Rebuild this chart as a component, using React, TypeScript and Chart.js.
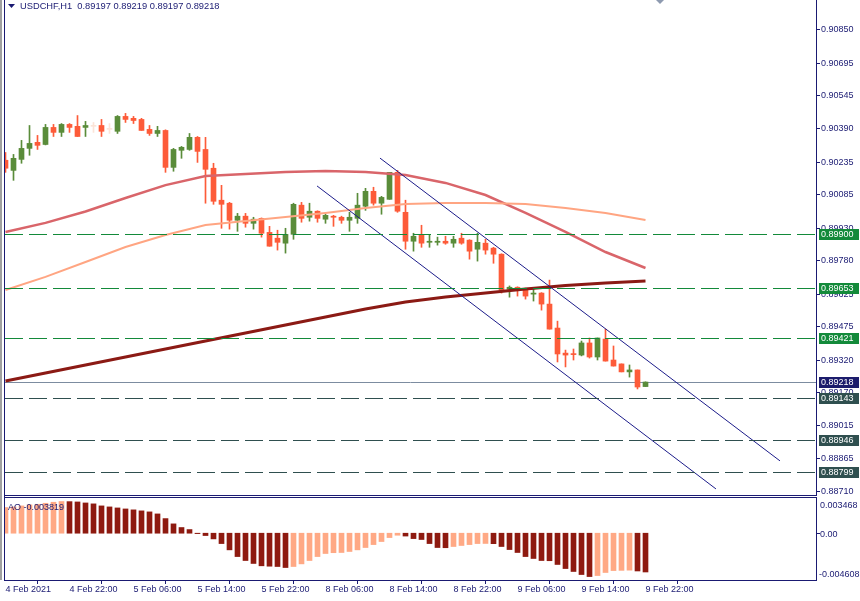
import React, { useEffect, useRef } from "react";
import { Chart, registerables } from "chart.js";

Chart.register(...registerables);

// ---------------- data ----------------
const SYMBOL = "USDCHF,H1";

const OPEN = [
  0.90245, 0.90198, 0.90249, 0.90300, 0.90328, 0.90318, 0.90397, 0.90374, 0.90411, 0.90402,
  0.90397, 0.90402, 0.90406, 0.90388, 0.90379, 0.90448, 0.90439, 0.90434, 0.90388, 0.90369,
  0.90383, 0.90212, 0.90291, 0.90295, 0.90351, 0.90295, 0.90208, 0.90060, 0.90046, 0.89967,
  0.89986, 0.89953, 0.89976, 0.89911, 0.89884, 0.89861, 0.89902, 0.90037, 0.89981, 0.90009,
  0.89972, 0.89986, 0.89981, 0.89967, 0.89976, 0.90032, 0.90101, 0.90046, 0.90064, 0.90189,
  0.90004, 0.89870, 0.89898, 0.89865, 0.89865, 0.89870, 0.89861, 0.89884, 0.89875, 0.89833,
  0.89861, 0.89838, 0.89810, 0.89648, 0.89657, 0.89648, 0.89625, 0.89630, 0.89579, 0.89468,
  0.89352, 0.89348, 0.89343, 0.89399, 0.89334, 0.89417, 0.89320, 0.89302, 0.89265, 0.89274,
  0.89197,
];
const HIGH = [
  0.90281, 0.90272, 0.90337, 0.90406, 0.90360, 0.90411, 0.90411, 0.90415, 0.90415, 0.90452,
  0.90425, 0.90420, 0.90434, 0.90415, 0.90452, 0.90462, 0.90448, 0.90439, 0.90406, 0.90402,
  0.90386, 0.90300, 0.90309, 0.90369, 0.90355, 0.90351, 0.90231, 0.90129, 0.90050, 0.89999,
  0.89999, 0.89981, 0.89978, 0.89939, 0.89921, 0.89930, 0.90046, 0.90050, 0.90046, 0.90011,
  0.89995, 0.89990, 0.89986, 0.90004, 0.90092, 0.90115, 0.90120, 0.90078, 0.90189, 0.90198,
  0.90060, 0.89907, 0.89944, 0.89898, 0.89889, 0.89893, 0.89893, 0.89907, 0.89877, 0.89907,
  0.89879, 0.89842, 0.89812, 0.89663, 0.89659, 0.89653, 0.89648, 0.89632, 0.89690, 0.89500,
  0.89366, 0.89371, 0.89408, 0.89422, 0.89422, 0.89463, 0.89385, 0.89302, 0.89297, 0.89274,
  0.89219,
];
const LOW = [
  0.90189, 0.90152, 0.90231, 0.90268, 0.90295, 0.90316, 0.90355, 0.90355, 0.90374, 0.90355,
  0.90355, 0.90374, 0.90355, 0.90369, 0.90369, 0.90420, 0.90415, 0.90383, 0.90360, 0.90355,
  0.90189, 0.90194, 0.90254, 0.90291, 0.90235, 0.90046, 0.90041, 0.89930, 0.89926, 0.89916,
  0.89935, 0.89926, 0.89889, 0.89847, 0.89829, 0.89815, 0.89879, 0.89958, 0.89963, 0.89958,
  0.89953, 0.89939, 0.89953, 0.89916, 0.89953, 0.90013, 0.90037, 0.89995, 0.90064, 0.90004,
  0.89833, 0.89824, 0.89842, 0.89842, 0.89852, 0.89856, 0.89842, 0.89856, 0.89787, 0.89778,
  0.89810, 0.89768, 0.89630, 0.89611, 0.89616, 0.89602, 0.89593, 0.89551, 0.89463, 0.89311,
  0.89288, 0.89320, 0.89339, 0.89329, 0.89320, 0.89315, 0.89292, 0.89265, 0.89241, 0.89186,
  0.89197,
];
const CLOSE = [
  0.90208, 0.90254, 0.90300, 0.90323, 0.90314, 0.90397, 0.90374, 0.90411, 0.90397, 0.90355,
  0.90406, 0.90402, 0.90379, 0.90388, 0.90448, 0.90434, 0.90429, 0.90383, 0.90369, 0.90383,
  0.90212, 0.90295, 0.90305, 0.90351, 0.90286, 0.90203, 0.90055, 0.90041, 0.89967, 0.89986,
  0.89953, 0.89972, 0.89907, 0.89847, 0.89865, 0.89902, 0.90041, 0.89976, 0.90009, 0.89976,
  0.89990, 0.89981, 0.89967, 0.89981, 0.90037, 0.90101, 0.90046, 0.90073, 0.90189, 0.90009,
  0.89870, 0.89893, 0.89861, 0.89870, 0.89870, 0.89861, 0.89879, 0.89861, 0.89824, 0.89865,
  0.89829, 0.89810, 0.89644, 0.89657, 0.89648, 0.89616, 0.89630, 0.89579, 0.89463, 0.89348,
  0.89343, 0.89345, 0.89399, 0.89334, 0.89422, 0.89315, 0.89292, 0.89265, 0.89274, 0.89195,
  0.89218,
];

const TIME_TICKS = [0, 8, 16, 24, 32, 40, 48, 56, 64, 72, 80];
const TIME_LABELS = [
  "4 Feb 2021", "4 Feb 22:00", "5 Feb 06:00", "5 Feb 14:00", "5 Feb 22:00",
  "8 Feb 06:00", "8 Feb 14:00", "8 Feb 22:00", "9 Feb 06:00", "9 Feb 14:00", "9 Feb 22:00",
];
const PRICE_TICKS = [
  0.9085, 0.90695, 0.90545, 0.9039, 0.90235, 0.90085, 0.8993, 0.8978,
  0.89625, 0.89475, 0.8932, 0.8917, 0.89015, 0.88865, 0.8871,
];

const MA_INDEX = [0, 5, 10, 15, 20, 25, 30, 35, 40, 45, 50, 55, 60, 65, 70, 75, 80];
const MA_RED = [
  0.89913, 0.89955, 0.90008, 0.90070, 0.90130, 0.90172, 0.90181, 0.90191, 0.90195,
  0.90191, 0.90177, 0.90140, 0.90084, 0.90001, 0.89913, 0.89820, 0.89746,
];
const MA_SALMON = [
  0.89644, 0.89705, 0.89774, 0.89843, 0.89899, 0.89945, 0.89964, 0.89982, 0.90001,
  0.90024, 0.90042, 0.90047, 0.90047, 0.90042, 0.90024, 0.90001, 0.89968,
];
const MA_DARK = [
  0.89223, 0.89260, 0.89297, 0.89334, 0.89371, 0.89408, 0.89445, 0.89482, 0.89519,
  0.89556, 0.89589, 0.89612, 0.89630, 0.89649, 0.89665, 0.89677, 0.89686,
];

const CHANNEL_UPPER_X = [46.81, 96.81];
const CHANNEL_UPPER_Y = [0.90255, 0.88853];
const CHANNEL_LOWER_X = [38.94, 88.81];
const CHANNEL_LOWER_Y = [0.90126, 0.88723];

const LEVELS_GREEN = [0.899, 0.89653, 0.89421];
const LEVELS_SLATE = [0.89143, 0.88946, 0.88799];
const BID = 0.89218;

const AO = [
  0.00253, 0.00259, 0.00269, 0.00279, 0.00285, 0.00295, 0.00305, 0.00312, 0.00311, 0.00308,
  0.00298, 0.00289, 0.00269, 0.00259, 0.00249, 0.00239, 0.0023, 0.0022, 0.0021, 0.0019,
  0.00144, 0.00092, 0.00056, 0.00036, -0.00004, -0.00023, -0.00056, -0.00102, -0.00164, -0.0023,
  -0.00269, -0.00298, -0.00321, -0.00325, -0.00328, -0.00338, -0.00328, -0.00302, -0.00269, -0.0023,
  -0.002, -0.00192, -0.0019, -0.0018, -0.00164, -0.00141, -0.00112, -0.00082, -0.00043, -0.0002,
  -0.00028, -0.00053, -0.00062, -0.00102, -0.00141, -0.00143, -0.00131, -0.00121, -0.00112, -0.00102,
  -0.00101, -0.00103, -0.00131, -0.00161, -0.0019, -0.0023, -0.00249, -0.00269, -0.00271, -0.00308,
  -0.00348, -0.00377, -0.00407, -0.00427, -0.00417, -0.00387, -0.00368, -0.00366, -0.00364, -0.00372,
  -0.003819,
];
const AO_MAX = 0.003468;
const AO_MIN = -0.004608;

// ---------------- ranges & styles ----------------
const X_MIN = -0.1875;
const X_MAX = 101.3125;
const Y_MIN = 0.88695;
const Y_MAX = 0.90987;
const SHIFT_MARK = 81.8;

const AXIS = "#1a1a72";
const TEXT = "#1a1a72";
const UP = "#5a8c3a";
const DOWN = "#fd5b39";
const DOJI = "#fbe4d8";
const GREEN = "#138a3a";
const SLATE = "#2f4f4f";
const BID_LINE = "#7c8ca0";
const BID_BOX = "#1c1c6c";
const MA_RED_C = "#d9656a";
const MA_SALMON_C = "#ffa582";
const MA_DARK_C = "#8b1a14";
const CHANNEL_C = "#1c1c8a";
const AO_UP = "#ffa985";
const AO_DOWN = "#8e1a10";
const FONT_FAMILY = "'Liberation Sans', Arial, sans-serif";

const fmt = (v: number, d: number) => v.toFixed(d);

function drawLevel(chart: any, v: number, color: string, dash: number[]) {
  const { ctx, chartArea, scales } = chart;
  const py = Math.floor(scales.y.getPixelForValue(v)) + 0.5;
  ctx.save();
  ctx.beginPath();
  ctx.rect(chartArea.left, chartArea.top, chartArea.right - chartArea.left, chartArea.bottom - chartArea.top);
  ctx.clip();
  ctx.strokeStyle = color;
  ctx.lineWidth = 1;
  ctx.setLineDash(dash);
  ctx.beginPath();
  ctx.moveTo(chartArea.left + 1, py);
  ctx.lineTo(chartArea.right, py);
  ctx.stroke();
  ctx.restore();
}

const mainDecor = {
  id: "mainDecor",
  beforeDatasetsDraw(chart: any) {
    drawLevel(chart, BID, BID_LINE, []);
  },
  afterDatasetsDraw(chart: any) {
    LEVELS_GREEN.forEach((v) => drawLevel(chart, v, GREEN, [18, 6]));
    LEVELS_SLATE.forEach((v) => drawLevel(chart, v, SLATE, [18, 6]));
  },
  afterDraw(chart: any) {
    const { ctx, chartArea, scales } = chart;
    const y = scales.y;
    const x = scales.x;
    ctx.save();
    ctx.fillStyle = AXIS;
    ctx.fillRect(chartArea.left, 0, 1, chartArea.bottom + 1);
    ctx.fillRect(chartArea.left, chartArea.bottom, chartArea.right - chartArea.left + 1, 1);

    const boxes: [number, string][] = [
      ...LEVELS_GREEN.map((v) => [v, GREEN] as [number, string]),
      [BID, BID_BOX],
      ...LEVELS_SLATE.map((v) => [v, SLATE] as [number, string]),
    ];
    ctx.font = `9px ${FONT_FAMILY}`;
    ctx.textBaseline = "alphabetic";
    ctx.textAlign = "left";
    for (const [v, c] of boxes) {
      const py = y.getPixelForValue(v);
      const top = Math.round(py - 5.5);
      ctx.fillStyle = c;
      ctx.fillRect(chartArea.right + 3, top, 40, 11);
      ctx.fillStyle = "#ffffff";
      ctx.fillText(fmt(v, 5), chartArea.right + 5, top + 8);
    }

    // header
    ctx.fillStyle = TEXT;
    ctx.beginPath();
    ctx.moveTo(8, 4);
    ctx.lineTo(15, 4);
    ctx.lineTo(11.5, 8);
    ctx.closePath();
    ctx.fill();
    const n = OPEN.length - 1;
    const header = `${SYMBOL}  ${fmt(OPEN[n], 5)} ${fmt(HIGH[n], 5)} ${fmt(LOW[n], 5)} ${fmt(CLOSE[n], 5)}`;
    ctx.font = `9.3px ${FONT_FAMILY}`;
    ctx.fillText(header, 20, 9);

    // chart shift marker
    const sx = Math.round(x.getPixelForValue(SHIFT_MARK));
    ctx.fillStyle = "#8e9ab0";
    ctx.beginPath();
    ctx.moveTo(sx - 4, 0);
    ctx.lineTo(sx + 4, 0);
    ctx.lineTo(sx, 4);
    ctx.closePath();
    ctx.fill();
    ctx.restore();
  },
};

const aoDecor = {
  id: "aoDecor",
  afterDraw(chart: any) {
    const { ctx, chartArea, scales } = chart;
    ctx.save();
    ctx.fillStyle = AXIS;
    ctx.fillRect(chartArea.left, 0, 1, chartArea.bottom + 1);
    ctx.fillRect(chartArea.left, 1, chartArea.right - chartArea.left + 1, 1);
    const zeroY = scales.y.getPixelForValue(0);
    ctx.fillRect(chartArea.right, Math.round(zeroY), 4, 1);
    ctx.fillStyle = TEXT;
    ctx.font = `9px ${FONT_FAMILY}`;
    ctx.textBaseline = "alphabetic";
    ctx.textAlign = "left";
    const x0 = chartArea.right + 4;
    ctx.fillText(fmt(AO_MAX, 6), x0, chartArea.top + 9.5);
    ctx.fillText("0.00", x0, Math.round(zeroY) + 4);
    ctx.fillText(fmt(AO_MIN, 6), x0 - 1, chartArea.bottom - 3);
    ctx.fillText(`AO ${fmt(AO[AO.length - 1], 6)}`, 8, 14);
    ctx.restore();
  },
};

export default function App() {
  const mainRef = useRef<HTMLCanvasElement>(null);
  const aoRef = useRef<HTMLCanvasElement>(null);

  useEffect(() => {
    const idx = OPEN.map((_, i) => i);
    const candleColor = idx.map((i) =>
      CLOSE[i] > OPEN[i] ? UP : CLOSE[i] < OPEN[i] ? DOWN : DOJI
    );
    const maLine = (vals: number[], color: string, width: number) => ({
      type: "line",
      data: MA_INDEX.map((i, k) => ({ x: i, y: vals[k] })),
      borderColor: color,
      borderWidth: width,
      pointRadius: 0,
      tension: 0,
      order: 3,
    });
    const chLine = (xs: number[], ys: number[]) => ({
      type: "line",
      data: xs.map((xv, k) => ({ x: xv, y: ys[k] })),
      borderColor: CHANNEL_C,
      borderWidth: 1,
      pointRadius: 0,
      order: 1,
    });

    const main = new Chart(mainRef.current as HTMLCanvasElement, {
      type: "bar",
      data: {
        datasets: [
          {
            type: "bar",
            data: idx.map((i) => ({ x: i, y: [LOW[i], HIGH[i]] })),
            backgroundColor: candleColor,
            grouped: false,
            barPercentage: 1,
            categoryPercentage: 1,
            maxBarThickness: 1,
            order: 8,
          } as any,
          {
            type: "bar",
            data: idx.map((i) => ({ x: i, y: [OPEN[i], CLOSE[i]] })),
            backgroundColor: candleColor,
            grouped: false,
            barPercentage: 1,
            categoryPercentage: 1,
            maxBarThickness: 5,
            minBarLength: 1,
            order: 7,
          } as any,
          maLine(MA_SALMON, MA_SALMON_C, 2) as any,
          maLine(MA_RED, MA_RED_C, 2.5) as any,
          maLine(MA_DARK, MA_DARK_C, 3) as any,
          chLine(CHANNEL_UPPER_X, CHANNEL_UPPER_Y) as any,
          chLine(CHANNEL_LOWER_X, CHANNEL_LOWER_Y) as any,
        ],
      },
      options: {
        animation: false,
        responsive: false,
        maintainAspectRatio: false,
        events: [],
        layout: { padding: { left: 4, top: 0, right: 0, bottom: 1 } },
        plugins: { legend: { display: false }, tooltip: { enabled: false } },
        scales: {
          x: {
            type: "linear",
            min: X_MIN,
            max: X_MAX,
            offset: false,
            display: false,
            afterBuildTicks: (s: any) => {
              s.ticks = TIME_TICKS.map((v) => ({ value: v }));
            },
          },
          y: {
            type: "linear",
            position: "right",
            min: Y_MIN,
            max: Y_MAX,
            beginAtZero: false,
            afterBuildTicks: (s: any) => {
              s.ticks = PRICE_TICKS.map((v) => ({ value: v }));
            },
            afterFit: (s: any) => {
              s.width = 44;
              s.paddingTop = 0;
              s.paddingBottom = 0;
            },
            ticks: {
              color: TEXT,
              font: { family: FONT_FAMILY, size: 9 },
              padding: 1,
              autoSkip: false,
              callback: (v: any) => Number(v).toFixed(5),
            },
            grid: { display: true, drawOnChartArea: false, drawTicks: true, tickLength: 4, color: AXIS },
            border: { display: true, color: AXIS, width: 1 },
          },
        },
      } as any,
      plugins: [mainDecor],
    });

    const ao = new Chart(aoRef.current as HTMLCanvasElement, {
      type: "bar",
      data: {
        datasets: [
          {
            data: AO.map((v, i) => ({ x: i, y: v })),
            backgroundColor: AO.map((v, i) => (i > 0 && v < AO[i - 1] ? AO_DOWN : AO_UP)),
            grouped: false,
            barPercentage: 1,
            categoryPercentage: 1,
            maxBarThickness: 5,
          } as any,
        ],
      },
      options: {
        animation: false,
        responsive: false,
        maintainAspectRatio: false,
        events: [],
        layout: { padding: { left: 4, top: 2, right: 0, bottom: 0 } },
        plugins: { legend: { display: false }, tooltip: { enabled: false } },
        scales: {
          x: {
            type: "linear",
            min: X_MIN,
            max: X_MAX,
            offset: false,
            afterBuildTicks: (s: any) => {
              s.ticks = TIME_TICKS.map((v) => ({ value: v }));
            },
            afterFit: (s: any) => {
              s.height = 21;
              s.paddingLeft = 0;
              s.paddingRight = 0;
            },
            ticks: {
              color: TEXT,
              font: { family: FONT_FAMILY, size: 9 },
              padding: 0,
              align: "start",
              maxRotation: 0,
              minRotation: 0,
              autoSkip: false,
              callback: (_v: any, i: number) => TIME_LABELS[i],
            },
            grid: { display: true, drawOnChartArea: false, drawTicks: true, tickLength: 4, color: AXIS },
            border: { display: true, color: AXIS, width: 1 },
          },
          y: {
            type: "linear",
            position: "right",
            min: AO_MIN,
            max: AO_MAX,
            ticks: { display: false },
            grid: { display: false },
            border: { display: true, color: AXIS, width: 1 },
            afterFit: (s: any) => {
              s.width = 44;
              s.paddingTop = 0;
              s.paddingBottom = 0;
            },
          },
        },
      } as any,
      plugins: [aoDecor],
    });

    return () => {
      main.destroy();
      ao.destroy();
    };
  }, []);

  return (
    <div
      style={{
        position: "fixed",
        left: 0,
        top: 0,
        width: 860,
        height: 601,
        background: "#ffffff",
        overflow: "hidden",
      }}
    >
      <canvas
        ref={mainRef}
        width={860}
        height={496}
        style={{ position: "absolute", left: 0, top: 0, width: 860, height: 496 }}
      />
      <canvas
        ref={aoRef}
        width={860}
        height={105}
        style={{ position: "absolute", left: 0, top: 496, width: 860, height: 105 }}
      />
      <div style={{ position: "absolute", left: 0, top: 0, width: 2, height: 580, background: "#a0a0a0" }} />
    </div>
  );
}
